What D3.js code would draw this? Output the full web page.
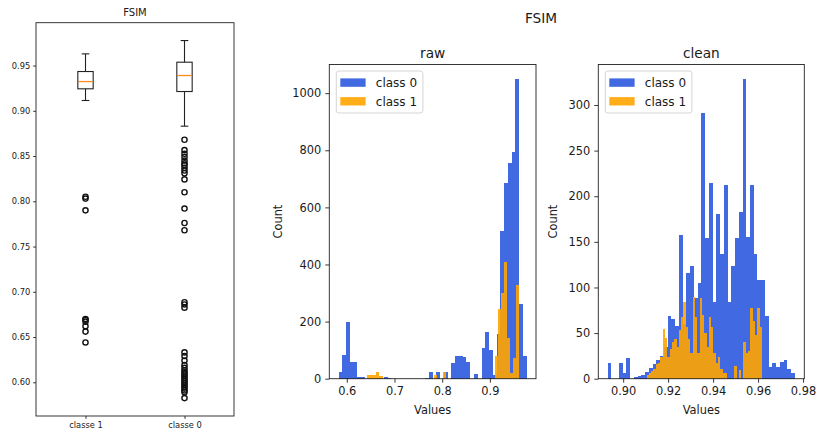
<!DOCTYPE html>
<html><head><meta charset="utf-8">
<script src="https://cdn.jsdelivr.net/npm/d3@7"></script>
<style>
body{margin:0;background:#fff}
svg{display:block}
text{font-family:"DejaVu Sans",sans-serif;fill:#1a1a1a}
</style>
</head><body>
<svg id="chart" width="817" height="439"></svg>
<script>
// ---- Box plot: FSIM per class ----
const boxGroups = ["classe 1", "classe 0"];
const boxQ1 = [0.9243, 0.9213];
const boxMedian = [0.9323, 0.9390];
const boxQ3 = [0.9434, 0.9537];
const whiskerLow = [0.9114, 0.8830];
const whiskerHigh = [0.9629, 0.9776];
const outliersClasse1 = [0.805, 0.803, 0.790, 0.670, 0.669, 0.667, 0.662, 0.656, 0.644];
const outliersClasse0 = [0.868, 0.8565, 0.8525, 0.849, 0.845, 0.842, 0.840, 0.837, 0.834, 0.831,
  0.8242, 0.810, 0.792, 0.776, 0.768, 0.6885, 0.686, 0.6825,
  0.633, 0.629, 0.624, 0.619, 0.616, 0.613, 0.611, 0.609, 0.607, 0.605, 0.603, 0.601,
  0.599, 0.597, 0.595, 0.593, 0.591, 0.589, 0.5825];
const boxYTicks = [0.60, 0.65, 0.70, 0.75, 0.80, 0.85, 0.90, 0.95];

// ---- Histograms: counts per bin, 50 equal bins over each class range ----
const histClasses = ["class 0", "class 1"];
const rawRange0 = [0.583, 0.977];
const rawCounts0 = [22, 82, 200, 57, 57, 7, 7, 0, 0, 0,
  0, 0, 6, 3, 0, 0, 0, 0, 0, 0,
  0, 0, 0, 3, 25, 0, 25, 0, 24, 0,
  56, 80, 81, 76, 60, 0, 16, 0, 108, 162,
  100, 12, 157, 517, 685, 755, 795, 1048, 260, 80];
const rawRange1 = [0.643, 0.962];
const rawCounts1 = [13, 13, 13, 22, 10, 0, 0, 0, 0, 0,
  0, 0, 0, 0, 0, 0, 0, 0, 0, 0,
  0, 0, 13, 0, 0, 25, 0, 0, 0, 0,
  0, 0, 0, 0, 0, 0, 0, 0, 0, 0,
  0, 0, 80, 244, 300, 408, 142, 19, 72, 328];
const cleanRange0 = [0.8931, 0.9764];
const cleanCounts0 = [17, 0, 0, 17, 6, 23, 0, 2, 3, 4,
  7, 12, 16, 20, 25, 35, 69, 65, 58, 157,
  60, 116, 123, 88, 105, 291, 154, 215, 84, 180,
  137, 212, 84, 123, 154, 183, 328, 155, 212, 137,
  108, 108, 69, 13, 17, 13, 18, 20, 11, 6];
const cleanRange1 = [0.9104, 0.9617];
const cleanCounts1 = [4, 6, 8, 11, 16, 17, 24, 55, 45, 24,
  33, 40, 43, 35, 53, 68, 84, 57, 44, 28,
  90, 68, 28, 89, 70, 50, 35, 68, 57, 28,
  17, 24, 11, 6, 6, 0, 0, 0, 14, 0,
  9, 0, 40, 28, 30, 77, 63, 48, 77, 57];
const rawXTicks = [0.6, 0.7, 0.8, 0.9];
const rawYTicks = [0, 200, 400, 600, 800, 1000];
const cleanXTicks = [0.90, 0.92, 0.94, 0.96, 0.98];
const cleanYTicks = [0, 50, 100, 150, 200, 250, 300];

const COLORS = ["#4169e1", "#ffa500"];
const OPAC = [1, 0.9];

const svg = d3.select("#chart");
svg.append("rect").attr("width", 817).attr("height", 439).attr("fill", "#fff");

function styleAxis(g, fs) {
  g.select(".domain").remove();
  g.selectAll(".tick line").attr("stroke", "#222").attr("stroke-width", 0.9);
  g.selectAll(".tick text").attr("font-size", fs).attr("font-family", "DejaVu Sans").attr("fill", "#222");
}

// ===== Box plot panel =====
(function () {
  const L = 36, R = 234, T = 22.7, B = 416;
  const allVals = whiskerLow.concat(whiskerHigh, outliersClasse1, outliersClasse0);
  const lo = d3.min(allVals), hi = d3.max(allVals), pad = (hi - lo) * 0.05;
  const y = d3.scaleLinear().domain([lo - pad, hi + pad]).range([B, T]);
  const x = d3.scaleLinear().domain([0.5, 2.5]).range([L, R]);
  const fs = 8.3, tk = 2.9;

  const g = svg.append("g");
  const ya = g.append("g").attr("transform", `translate(${L},0)`)
    .call(d3.axisLeft(y).tickValues(boxYTicks).tickFormat(d3.format(".2f")).tickSize(tk).tickPadding(tk));
  styleAxis(ya, fs);
  const xa = g.append("g").attr("transform", `translate(0,${B})`)
    .call(d3.axisBottom(x).tickValues([1, 2]).tickFormat((d, i) => boxGroups[i]).tickSize(tk).tickPadding(tk));
  styleAxis(xa, fs);

  const outl = [outliersClasse1, outliersClasse0];
  const hw = 0.0775;
  boxGroups.forEach((name, i) => {
    const p = i + 1;
    const bg = g.append("g").attr("stroke", "#222").attr("stroke-width", 1.1).attr("fill", "none");
    // whiskers
    bg.append("line").attr("x1", x(p)).attr("x2", x(p)).attr("y1", y(boxQ1[i])).attr("y2", y(whiskerLow[i]));
    bg.append("line").attr("x1", x(p)).attr("x2", x(p)).attr("y1", y(boxQ3[i])).attr("y2", y(whiskerHigh[i]));
    // caps
    bg.append("line").attr("x1", x(p - hw / 2)).attr("x2", x(p + hw / 2)).attr("y1", y(whiskerLow[i])).attr("y2", y(whiskerLow[i]));
    bg.append("line").attr("x1", x(p - hw / 2)).attr("x2", x(p + hw / 2)).attr("y1", y(whiskerHigh[i])).attr("y2", y(whiskerHigh[i]));
    // box
    bg.append("rect").attr("x", x(p - hw)).attr("width", x(p + hw) - x(p - hw))
      .attr("y", y(boxQ3[i])).attr("height", y(boxQ1[i]) - y(boxQ3[i]));
    // median
    g.append("line").attr("x1", x(p - hw) + 0.6).attr("x2", x(p + hw) - 0.6)
      .attr("y1", y(boxMedian[i])).attr("y2", y(boxMedian[i]))
      .attr("stroke", "#ff8c1a").attr("stroke-width", 1.3);
    // fliers
    g.append("g").selectAll("circle").data(outl[i]).join("circle")
      .attr("cx", x(p)).attr("cy", d => y(d)).attr("r", 2.6)
      .attr("fill", "none").attr("stroke", "#111").attr("stroke-width", 1.4);
  });

  g.append("rect").attr("x", L).attr("y", T).attr("width", R - L).attr("height", B - T)
    .attr("fill", "none").attr("stroke", "#222").attr("stroke-width", 0.9);
  g.append("text").attr("x", (L + R) / 2).attr("y", 15.5).attr("text-anchor", "middle")
    .attr("font-size", 10).text("FSIM");
})();

// ===== Histogram panels =====
svg.append("text").attr("x", 541).attr("y", 23).attr("text-anchor", "middle")
  .attr("font-size", 13.7).text("FSIM");

function histPanel(opt) {
  const { L, R, T, B, title, ranges, counts, xTicks, yTicks, xFmt, countX } = opt;
  const lo = d3.min(ranges, r => r[0]), hi = d3.max(ranges, r => r[1]);
  const pad = (hi - lo) * 0.05;
  const x = d3.scaleLinear().domain([lo - pad, hi + pad]).range([L, R]);
  const ymax = d3.max(counts, c => d3.max(c)) * 1.05;
  const y = d3.scaleLinear().domain([0, ymax]).range([B, T]);
  const fs = 11.4, tk = 4;
  const g = svg.append("g");

  counts.forEach((c, k) => {
    const [a, b] = ranges[k];
    const w = (b - a) / c.length;
    const bins = c.map((n, i) => ({ x0: a + i * w, x1: a + (i + 1) * w, n }));
    g.append("g").attr("fill", COLORS[k]).attr("fill-opacity", OPAC[k])
      .selectAll("rect").data(bins.filter(d => d.n > 0)).join("rect")
      .attr("shape-rendering", "crispEdges")
      .attr("x", d => x(d.x0)).attr("width", d => x(d.x1) - x(d.x0))
      .attr("y", d => y(d.n)).attr("height", d => y(0) - y(d.n));
  });

  const ya = g.append("g").attr("transform", `translate(${L},0)`)
    .call(d3.axisLeft(y).tickValues(yTicks).tickFormat(d3.format("d")).tickSize(tk).tickPadding(tk));
  styleAxis(ya, fs);
  const xa = g.append("g").attr("transform", `translate(0,${B})`)
    .call(d3.axisBottom(x).tickValues(xTicks).tickFormat(xFmt).tickSize(tk).tickPadding(tk));
  styleAxis(xa, fs);

  g.append("rect").attr("x", L).attr("y", T).attr("width", R - L).attr("height", B - T)
    .attr("fill", "none").attr("stroke", "#222").attr("stroke-width", 0.9);

  g.append("text").attr("x", (L + R) / 2).attr("y", T - 6.5).attr("text-anchor", "middle")
    .attr("font-size", 13.7).text(title);
  g.append("text").attr("x", (L + R) / 2).attr("y", 413.5).attr("text-anchor", "middle")
    .attr("font-size", fs).text("Values");
  g.append("text").attr("transform", `translate(${countX},${(T + B) / 2}) rotate(-90)`)
    .attr("text-anchor", "middle").attr("font-size", fs).text("Count");

  // legend
  const lx = L + 7, ly = T + 6.5;
  const lg = g.append("g").attr("transform", `translate(${lx},${ly})`);
  lg.append("rect").attr("width", 86.6).attr("height", 42).attr("rx", 2.5)
    .attr("fill", "#fff").attr("fill-opacity", 0.8).attr("stroke", "#d0d0d0").attr("stroke-width", 0.9);
  histClasses.forEach((name, k) => {
    const cy = 11.6 + k * 18.7;
    lg.append("rect").attr("x", 4).attr("y", cy - 4.2).attr("width", 25.3).attr("height", 8.4)
      .attr("fill", COLORS[k]).attr("fill-opacity", OPAC[k]);
    lg.append("text").attr("x", 39.5).attr("y", cy + 4.2).attr("font-size", 12).text(name);
  });
}

histPanel({
  L: 329.3, R: 536, T: 64.5, B: 378.7, title: "raw",
  ranges: [rawRange0, rawRange1], counts: [rawCounts0, rawCounts1],
  xTicks: rawXTicks, yTicks: rawYTicks, xFmt: d3.format(".1f"), countX: 282
});
histPanel({
  L: 598.3, R: 804.3, T: 64.5, B: 378.7, title: "clean",
  ranges: [cleanRange0, cleanRange1], counts: [cleanCounts0, cleanCounts1],
  xTicks: cleanXTicks, yTicks: cleanYTicks, xFmt: d3.format(".2f"), countX: 557
});
</script>
</body></html>
